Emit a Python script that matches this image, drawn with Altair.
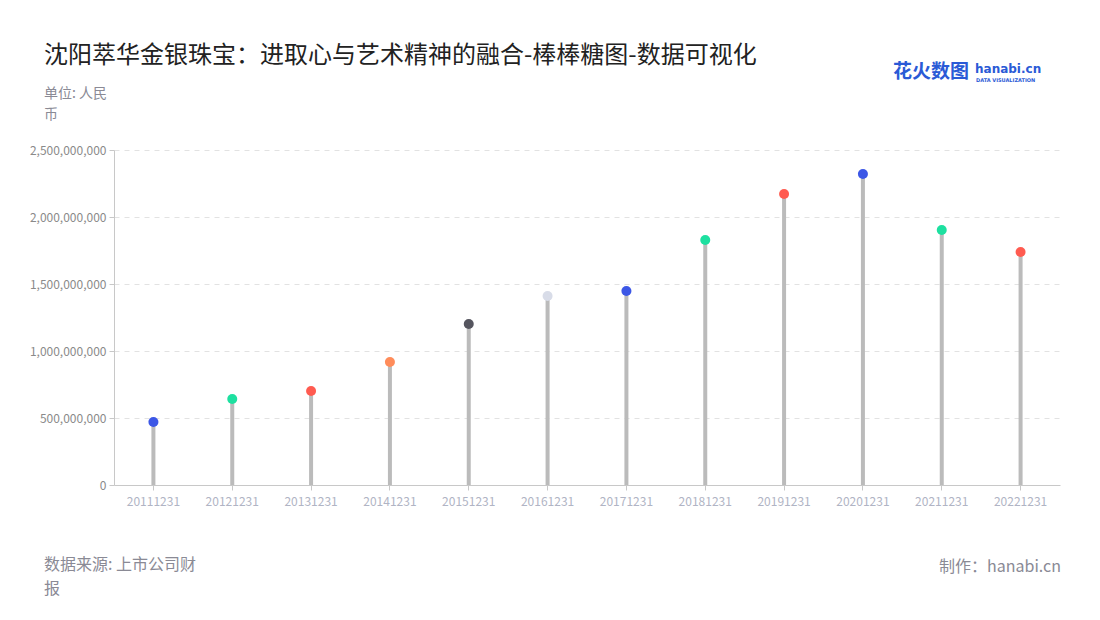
import altair as alt
import pandas as pd

dates = ["20111231", "20121231", "20131231", "20141231", "20151231", "20161231",
         "20171231", "20181231", "20191231", "20201231", "20211231", "20221231"]
values = [470e6, 642e6, 701e6, 918e6, 1201e6, 1410e6,
          1448e6, 1828e6, 2172e6, 2321e6, 1903e6, 1739e6]
dot_colors = ["#3c57e6", "#1de0a0", "#ff5b50", "#ff8c5a", "#55555f", "#d8dce8",
              "#3c57e6", "#1de0a0", "#ff5b50", "#3c57e6", "#1de0a0", "#ff5b50"]
y_ticks = [0, 500e6, 1000e6, 1500e6, 2000e6, 2500e6]

df = pd.DataFrame({"date": dates, "value": values, "col": dot_colors})
FONT = "Noto Sans CJK SC"

base = alt.Chart(df)
x_enc = alt.X("date:N", sort=dates, scale=alt.Scale(paddingInner=0, paddingOuter=0),
              axis=alt.Axis(title=None, labelAngle=0, labelColor="#b0b4c4", labelFontSize=12,
                            labelFont=FONT, domainColor="#c8c8c8", tickColor="#c8c8c8",
                            tickSize=5, labelPadding=6, grid=False))
y_scale = alt.Scale(domain=[0, 2.5e9], nice=False)

stems = base.mark_rule(color="#bbbbbb", strokeWidth=4).encode(
    x=x_enc,
    y=alt.Y("value:Q", scale=y_scale,
            axis=alt.Axis(title=None, values=y_ticks, format=",d", labelColor="#8a8a8a",
                          labelFontSize=12, labelFont=FONT, domainColor="#c8c8c8",
                          tickColor="#c8c8c8", tickSize=5, gridDash=[5, 5],
                          gridColor="#e2e2e2", labelPadding=3)),
    y2=alt.datum(0),
)
dots = base.mark_circle(size=100, opacity=1).encode(
    x=alt.X("date:N", sort=dates),
    y=alt.Y("value:Q", scale=y_scale),
    color=alt.Color("col:N", scale=None, legend=None),
)

one = alt.Chart(pd.DataFrame({"a": [0]}))
# plot origin on page: (114, 150)
def txt(text, px, py, font=FONT, **kw):
    return one.mark_text(text=text, font=font, **kw).encode(
        x=alt.value(px - 114), y=alt.value(py - 150))

title = txt("沈阳萃华金银珠宝：进取心与艺术精神的融合-棒棒糖图-数据可视化", 44, 56,
            fontSize=24, color="#222222", align="left", baseline="middle")
unit1 = txt("单位: 人民", 44, 94, fontSize=14, color="#8a8a95", align="left",
            baseline="middle")
unit2 = txt("币", 44, 115, fontSize=14, color="#8a8a95", align="left",
            baseline="middle")
source1 = txt("数据来源: 上市公司财", 44, 565, fontSize=16, color="#8a8a95",
              align="left", baseline="middle")
source2 = txt("报", 44, 589, fontSize=16, color="#8a8a95",
              align="left", baseline="middle")
maker = txt("制作：hanabi.cn", 1061, 567, fontSize=16, color="#8a8a95", align="right",
            baseline="middle")
logo1 = txt("花火数图", 893, 72, fontSize=19, fontWeight="bold", color="#2a5ad6",
            align="left", baseline="middle")
logo2 = txt("hanabi.cn", 975, 69, font="DejaVu Sans", fontSize=12, fontWeight="bold",
            color="#2a5ad6", align="left", baseline="middle")
logo3 = txt("DATA VISUALIZATION", 976, 80, font="DejaVu Sans", fontSize=5,
            fontWeight="bold", color="#2a5ad6", align="left", baseline="middle")

chart = alt.layer(stems, dots, title, unit1, unit2, source1, source2, maker,
                  logo1, logo2, logo3).properties(
    width=946, height=335,
    autosize=alt.AutoSizeParams(type="none"),
    padding={"left": 106, "top": 142, "right": 32, "bottom": 127},
).configure(background="white").configure_view(stroke=None)

chart.save("out.html", embed_options={"renderer": "svg", "actions": False})
